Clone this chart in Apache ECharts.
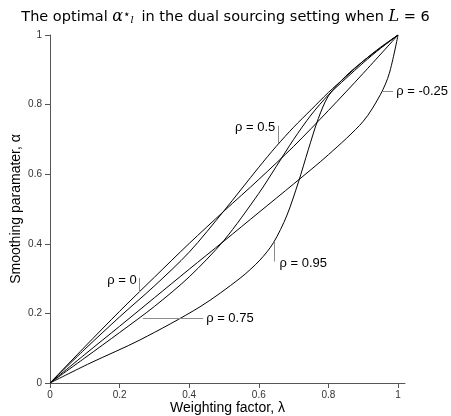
<!DOCTYPE html>
<html>
<head>
<meta charset="utf-8">
<script src="https://cdn.jsdelivr.net/npm/echarts@6/dist/echarts.min.js"></script>
<style>
  html, body { margin: 0; padding: 0; background: #fff; }
  #chart { width: 451px; height: 416px; }
</style>
</head>
<body>
<div id="chart"></div>
<script>
// 数据: 每条曲线的 λ 与 α
const xTicks = [0, 0.2, 0.4, 0.6, 0.8, 1];
const yTicks = [0, 0.2, 0.4, 0.6, 0.8, 1];

const lamRhoM025 = [0, 0.1, 0.2, 0.3, 0.4, 0.5, 0.6, 0.7, 0.8, 0.9, 0.95, 0.975, 1];
const alpRhoM025 = [0, 0.082, 0.163, 0.245, 0.327, 0.408, 0.49, 0.572, 0.656, 0.752, 0.83, 0.89, 1];

const lamRho0 = [0, 0.1, 0.2, 0.3, 0.4, 0.5, 0.6, 0.7, 0.8, 0.9, 1];
const alpRho0 = [0, 0.104, 0.206, 0.304, 0.401, 0.494, 0.585, 0.68, 0.783, 0.89, 1];

const lamRho05 = [0, 0.1, 0.2, 0.3, 0.4, 0.5, 0.6, 0.65, 0.7, 0.75, 0.8, 0.85, 0.9, 0.95, 1];
const alpRho05 = [0, 0.097, 0.19, 0.279, 0.376, 0.495, 0.62, 0.68, 0.735, 0.785, 0.835, 0.88, 0.925, 0.965, 1];

const lamRho075 = [0, 0.1, 0.2, 0.3, 0.4, 0.5, 0.6, 0.65, 0.7, 0.75, 0.8, 0.85, 0.9, 0.95, 1];
const alpRho075 = [0, 0.072, 0.145, 0.22, 0.305, 0.41, 0.545, 0.622, 0.70, 0.77, 0.828, 0.875, 0.92, 0.962, 1];

const lamRho095 = [0, 0.115, 0.259, 0.431, 0.546, 0.603, 0.642, 0.68, 0.714, 0.742, 0.771, 0.8, 0.85, 0.9, 0.95, 1];
const alpRho095 = [0, 0.057, 0.124, 0.219, 0.301, 0.353, 0.403, 0.48, 0.578, 0.67, 0.76, 0.825, 0.882, 0.925, 0.963, 1];

// 标注文字
const labelRho = ['ρ = -0.25', 'ρ = 0', 'ρ = 0.5', 'ρ = 0.75', 'ρ = 0.95'];

function pairs(xs, ys) {
    return xs.map((x, i) => [x, ys[i]]);
}

const chart = echarts.init(document.getElementById('chart'));

const leaderStyle = { color: '#8c8c8c', width: 1, type: 'solid' };
const textStyle = { color: '#000', fontSize: 13, fontFamily: 'Liberation Sans, Arial, sans-serif' };

function curve(name, xs, ys, leader, tag) {
    return {
        name: name,
        type: 'line',
        data: pairs(xs, ys),
        showSymbol: false,
        smooth: 0.3,
        lineStyle: { color: '#000', width: 1 },
        silent: true,
        z: 3,
        markLine: {
            silent: true,
            symbol: ['none', 'none'],
            lineStyle: leaderStyle,
            label: { show: false },
            animation: false,
            data: [[{ coord: leader[0] }, { coord: leader[1] }]]
        },
        markPoint: {
            silent: true,
            symbol: 'circle',
            symbolSize: 0,
            animation: false,
            label: Object.assign({ show: true, formatter: name, position: tag.pos, distance: tag.dist }, textStyle),
            data: [{ coord: tag.at }]
        }
    };
}

const option = {
    animation: false,
    backgroundColor: '#fff',
    title: {
        text: '{n|The optimal }{m|α}{sup|⋆}{sub|l}{n| in the dual sourcing setting when }{m|L}{n| = 6}',
        left: 'center',
        top: 4,
        textStyle: {
            fontWeight: 'normal',
            rich: {
                n: { fontSize: 14.5, color: '#000', fontWeight: 'normal', fontFamily: 'DejaVu Sans, sans-serif' },
                m: { fontSize: 16, color: '#000', fontWeight: 'normal', fontStyle: 'italic', fontFamily: 'DejaVu Serif, serif' },
                sup: { fontSize: 12, color: '#000', fontWeight: 'normal', fontFamily: 'DejaVu Sans, sans-serif', verticalAlign: 'top', lineHeight: 12 },
                sub: { fontSize: 10, color: '#000', fontWeight: 'normal', fontStyle: 'italic', fontFamily: 'DejaVu Serif, serif', verticalAlign: 'bottom', lineHeight: 12, padding: [0, 3, 0, 0] }
            }
        }
    },
    grid: { left: 50, right: 46, top: 35, bottom: 33, containLabel: false, outerBoundsMode: 'none' },
    xAxis: {
        type: 'value',
        min: 0,
        max: 1.02,
        interval: 0.2,
        name: 'Weighting factor, λ',
        nameLocation: 'middle',
        nameGap: 18,
        nameMoveOverlap: false,
        nameTextStyle: { fontSize: 14, color: '#000', fontFamily: 'Liberation Sans, Arial, sans-serif' },
        axisLine: { show: true, lineStyle: { color: '#555', width: 1 } },
        axisTick: { show: true, length: 5, customValues: xTicks, lineStyle: { color: '#555' } },
        axisLabel: { customValues: xTicks, fontSize: 10, color: '#333', margin: 7, fontFamily: 'Liberation Sans, Arial, sans-serif' },
        splitLine: { show: false }
    },
    yAxis: {
        type: 'value',
        min: 0,
        max: 1,
        interval: 0.2,
        name: 'Smoothing paramater, α',
        nameLocation: 'middle',
        nameGap: 27,
        nameMoveOverlap: false,
        nameTextStyle: { fontSize: 14, color: '#000', fontFamily: 'Liberation Sans, Arial, sans-serif' },
        axisLine: { show: true, lineStyle: { color: '#555', width: 1 } },
        axisTick: { show: true, length: 5, customValues: yTicks, lineStyle: { color: '#555' } },
        axisLabel: { customValues: yTicks, fontSize: 10, color: '#333', margin: 8, fontFamily: 'Liberation Sans, Arial, sans-serif' },
        splitLine: { show: false }
    },
    series: [
        curve(labelRho[0], lamRhoM025, alpRhoM025,
            [[0.953, 0.837], [0.986, 0.837]], { at: [0.986, 0.837], pos: 'right', dist: 3 }),
        curve(labelRho[1], lamRho0, alpRho0,
            [[0.255, 0.302], [0.255, 0.262]], { at: [0.255, 0.296], pos: 'left', dist: 2 }),
        curve(labelRho[2], lamRho05, alpRho05,
            [[0.656, 0.739], [0.656, 0.690]], { at: [0.656, 0.733], pos: 'left', dist: 3 }),
        curve(labelRho[3], lamRho075, alpRho075,
            [[0.267, 0.186], [0.440, 0.186]], { at: [0.440, 0.186], pos: 'right', dist: 3 }),
        curve(labelRho[4], lamRho095, alpRho095,
            [[0.645, 0.406], [0.645, 0.349]], { at: [0.645, 0.344], pos: 'right', dist: 5 })
    ]
};

chart.setOption(option);
</script>
</body>
</html>
